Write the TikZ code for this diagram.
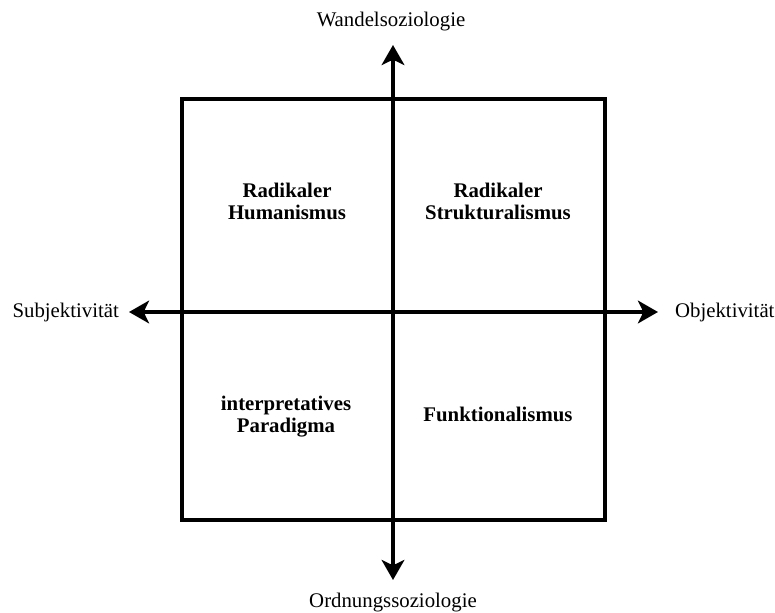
\documentclass[tikz,border=0pt]{standalone}
\usepackage{fontspec}
\setmainfont{Liberation Serif}
\usetikzlibrary{arrows.meta}

\begin{document}
\begin{tikzpicture}[x=0.75pt,y=-0.75pt,line width=3.2pt,
  font=\fontsize{15.6}{16.5}\selectfont,
  >={Stealth[length=15pt,width=17pt,inset=4pt]},
  quadrant/.style={align=center,font=\fontsize{15.6}{16.5}\selectfont\bfseries}]
  \useasboundingbox (0,0) rectangle (775,613);
  \draw (182,99) rectangle (605,520);
  \coordinate (top) at (393,45);
  \coordinate (bottom) at (393,580);
  \coordinate (left) at (129,312);
  \coordinate (right) at (658,312);
  \draw[<->] (bottom) -- (top);
  \draw[<->] (left) -- (right);
  \node[anchor=base] (wandel) at (391,27) {Wandelsoziologie};
  \node[anchor=base] (ordnung) at (393,607) {Ordnungssoziologie};
  \node[anchor=base east,inner sep=0pt] (subjekt) at (121,317) {Subjektivität};
  \node[anchor=base west,inner sep=0pt] (objekt) at (673,317) {Objektivität};
  \node[quadrant] (humanismus) at (287,201) {Radikaler\\Humanismus};
  \node[quadrant] (struktur) at (498,201) {Radikaler\\Strukturalismus};
  \node[quadrant] (interpret) at (286,417) {interpretatives\\Paradigma};
  \node[quadrant,anchor=base] (funktion) at (498,421) {Funktionalismus};
\end{tikzpicture}
\end{document}
